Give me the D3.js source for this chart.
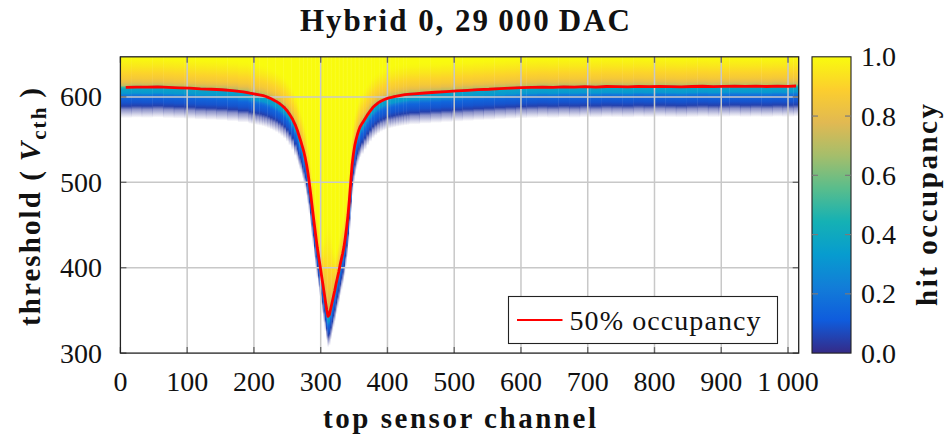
<!DOCTYPE html>
<html><head><meta charset="utf-8">
<script src="https://cdn.jsdelivr.net/npm/d3@7"></script>
<style>body{margin:0;background:#fff}text{font-family:"Liberation Serif","Times New Roman",serif;fill:#111}</style>
</head><body>
<svg id="c" width="944" height="441"></svg>
<script>
// ---------------- data ----------------
const nChannels = 1016;
// start channel of each column bin (finer bins where the 50% curve is steep)
const binStart = [].concat(
  d3.range(0, 192, 16), d3.range(192, 264, 4), d3.range(264, 360, 2),
  d3.range(360, 432, 4), d3.range(432, 1016, 16));
// 50% occupancy threshold (V_cth) of each bin
const mid50 = [
  611.2, 611.6, 611.4, 611.8, 611.1, 610.6, 610.2, 609.4, 609.0, 608.4, 607.4, 606.0,
  604.5, 604.0, 603.4, 602.8, 602.2, 601.5, 600.5, 599.2, 597.8, 596.2, 594.5, 592.5, 590.0, 587.2, 583.5, 579.0, 573.8, 567.0,
  561, 556, 551, 546, 540.5, 535, 528, 520, 510.5, 499, 486.5, 473, 460, 447.5, 435, 423, 413, 402.5, 392, 382, 371.5, 361, 351, 343,
  345, 352, 359, 366, 373, 381, 388, 395, 403, 410, 417, 425, 436, 448, 462, 480, 500, 520, 533, 543, 550, 556, 561, 565,
  569, 574, 579, 583.5, 587.5, 590.5, 593, 595, 596.5, 597.8, 598.8, 599.6, 600.3, 601, 601.6, 602.1, 602.6, 603.0,
  603.6, 604.6, 605.5, 606.3, 607.0, 607.8, 608.5, 609.0, 609.8, 610.3, 610.8, 611.2, 611.6, 611.3, 611.8, 611.5, 612.0, 611.6, 612.2,
  612.0, 611.7, 612.3, 612.0, 612.4, 612.1, 611.8, 612.2, 612.5, 612.1, 612.4, 612.7, 612.3, 612.5, 612.2, 612.6, 612.4, 612.8
];
// broader turn-on near the bottom of the dip
const tipChannel = [302, 304, 306, 308, 310, 312, 314, 316, 318, 320];
const tipSpread  = [1.4, 1.8, 2.3, 2.8, 3.0, 3.0, 2.6, 2.1, 1.6, 1.3];
// occupancy profile around the 50% point (offset in V_cth)
const profileOffset = [36, 32, 24, 16, 10, 6, 2, 0, -2, -7, -9, -12, -18, -22, -26, -32, -36];
const profileOcc    = [1.0, 0.99, 0.95, 0.9, 0.86, 0.81, 0.72, 0.5, 0.37, 0.32, 0.22, 0.14, 0.09, 0.05, 0.03, 0.02, 0.0];
const profileAlpha  = [1, 1, 1, 1, 1, 1, 1, 1, 1, 1, 1, 1, 1, 1, 0.55, 0.2, 0];

const xTicks = d3.range(0, 1001, 100);
const yTicks = [300, 400, 500, 600];
const cbTicks = [0, 0.2, 0.4, 0.6, 0.8, 1.0];
const parula = ["#352a87","#0f5cdd","#127dd8","#079ccf","#15b1b4","#59bd8c","#a5be6b","#e1b952","#fcce2e","#f9fb0e"];
const titleText = "Hybrid 0, 29\u2009000\u2009DAC";
const xLabel = "top sensor channel";
const cbLabel = "hit occupancy";
const legendText = "50% occupancy";

// ---------------- scales ----------------
const svg = d3.select("#c");
const x = d3.scaleLinear().domain([0, nChannels]).range([120.4, 798.7]);
const y = d3.scaleLinear().domain([300, 647]).range([353.1, 56.8]);
const color = d3.scaleLinear().domain(d3.range(parula.length).map(i => i / (parula.length - 1))).range(parula).clamp(true);
const cbY = d3.scaleLinear().domain([0, 1]).range([353.1, 56.8]);

const defs = svg.append("defs");
defs.append("clipPath").attr("id", "plotclip").append("rect")
  .attr("x", x(0)).attr("y", y(647)).attr("width", x(nChannels) - x(0)).attr("height", y(300) - y(647));

// ---------------- heatmap ----------------
const cols = binStart.map((s, i) => {
  const e = i < binStart.length - 1 ? binStart[i + 1] : nChannels;
  const k = tipChannel.indexOf(s);
  return { s, e, c: (s + e) / 2, m: mid50[i], spread: k >= 0 ? tipSpread[k] : 1 };
});
const heat = svg.append("g").attr("clip-path", "url(#plotclip)");
cols.forEach((d, i) => {
  const yTop = y(647);
  const tBot = Math.max(300, d.m + profileOffset[profileOffset.length - 1]);
  const yBot = y(tBot);
  const g = defs.append("linearGradient").attr("id", "hg" + i)
    .attr("gradientUnits", "userSpaceOnUse").attr("x1", 0).attr("x2", 0).attr("y1", yTop).attr("y2", yBot);
  profileOffset.forEach((o, j) => {
    const t = d.m + (o > 0 ? o * d.spread : o);
    const off = Math.max(0, Math.min(1, (y(t) - yTop) / (yBot - yTop)));
    g.append("stop").attr("offset", off).attr("stop-color", color(profileOcc[j])).attr("stop-opacity", profileAlpha[j]);
  });
  heat.append("rect").attr("x", x(d.s)).attr("y", yTop)
    .attr("width", x(d.e) - x(d.s) + 0.4).attr("height", yBot - yTop)
    .attr("fill", "url(#hg" + i + ")");
});

// ---------------- grid ----------------
const grid = svg.append("g").attr("stroke", "#c8c8c8").attr("stroke-width", 1.5);
grid.selectAll(".vx").data(xTicks.filter(v => v > 0)).join("line")
  .attr("x1", d => x(d)).attr("x2", d => x(d)).attr("y1", y(647)).attr("y2", y(300));
grid.selectAll(".hy").data(yTicks.filter(v => v > 300)).join("line")
  .attr("y1", d => y(d)).attr("y2", d => y(d)).attr("x1", x(0)).attr("x2", x(nChannels));

// tick marks (inside)
const tk = svg.append("g").attr("stroke", "#666").attr("stroke-width", 1.3);
xTicks.forEach(v => {
  tk.append("line").attr("x1", x(v)).attr("x2", x(v)).attr("y1", y(300)).attr("y2", y(300) - 6);
  tk.append("line").attr("x1", x(v)).attr("x2", x(v)).attr("y1", y(647)).attr("y2", y(647) + 6);
});
yTicks.forEach(v => {
  tk.append("line").attr("y1", y(v)).attr("y2", y(v)).attr("x1", x(0)).attr("x2", x(0) + 6);
  tk.append("line").attr("y1", y(v)).attr("y2", y(v)).attr("x1", x(nChannels)).attr("x2", x(nChannels) - 6);
});

// ---------------- 50% line ----------------
svg.append("path").datum(cols).attr("clip-path", "url(#plotclip)")
  .attr("fill", "none").attr("stroke", "#ff0000").attr("stroke-width", 2.8).attr("stroke-linejoin", "round")
  .attr("d", d3.line().x(d => x(d.c)).y(d => y(d.m)));

// frame
svg.append("rect").attr("x", x(0)).attr("y", y(647)).attr("width", x(nChannels) - x(0)).attr("height", y(300) - y(647))
  .attr("fill", "none").attr("stroke", "#222").attr("stroke-width", 1.3);

// ---------------- axes labels ----------------
svg.append("g").selectAll("text").data(xTicks).join("text")
  .attr("x", d => x(d)).attr("y", 391).attr("text-anchor", "middle").attr("font-size", 28)
  .text(d => d >= 1000 ? d3.format(",")(d).replace(",", "\u2009") : d);
svg.append("g").selectAll("text").data(yTicks).join("text")
  .attr("x", 102).attr("y", d => y(d)).attr("dy", "0.34em").attr("text-anchor", "end").attr("font-size", 28)
  .text(d => d);

svg.append("text").attr("x", 459.5).attr("y", 428).attr("text-anchor", "middle")
  .attr("font-size", 29).attr("font-weight", "bold").attr("textLength", 273).attr("lengthAdjust", "spacing").text(xLabel);

const yl = svg.append("text").attr("transform", "translate(40,207) rotate(-90)").attr("text-anchor", "middle")
  .attr("font-size", 29).attr("font-weight", "bold").attr("textLength", 238).attr("lengthAdjust", "spacing");
yl.append("tspan").text("threshold (\u2009");
yl.append("tspan").attr("font-style", "italic").text("V");
yl.append("tspan").attr("font-size", 21).attr("dy", 6).text("cth");
yl.append("tspan").attr("dy", -6).text("\u2009)");

svg.append("text").attr("x", 465).attr("y", 31).attr("text-anchor", "middle")
  .attr("font-size", 31).attr("font-weight", "bold").attr("textLength", 330).attr("lengthAdjust", "spacing").text(titleText);

// ---------------- colorbar ----------------
const cg = defs.append("linearGradient").attr("id", "cbg").attr("x1", 0).attr("x2", 0).attr("y1", 1).attr("y2", 0);
parula.forEach((c, i) => cg.append("stop").attr("offset", i / (parula.length - 1)).attr("stop-color", c));
svg.append("rect").attr("x", 812).attr("y", cbY(1)).attr("width", 39).attr("height", cbY(0) - cbY(1))
  .attr("fill", "url(#cbg)").attr("stroke", "#222").attr("stroke-width", 1.1);
const cbt = svg.append("g").attr("stroke", "#7a7a7a").attr("stroke-width", 1.2);
cbTicks.filter(v => v > 0 && v < 1).forEach(v => {
  cbt.append("line").attr("x1", 812).attr("x2", 818).attr("y1", cbY(v)).attr("y2", cbY(v));
  cbt.append("line").attr("x1", 845).attr("x2", 851).attr("y1", cbY(v)).attr("y2", cbY(v));
});
svg.append("g").selectAll("text").data(cbTicks).join("text")
  .attr("x", 861).attr("y", d => cbY(d)).attr("dy", "0.34em").attr("font-size", 28).text(d => d.toFixed(1));
svg.append("text").attr("transform", "translate(937,205) rotate(-90)").attr("text-anchor", "middle")
  .attr("font-size", 29).attr("font-weight", "bold").attr("textLength", 202).attr("lengthAdjust", "spacing").text(cbLabel);

// ---------------- legend ----------------
const lg = svg.append("g");
lg.append("rect").attr("x", 508.5).attr("y", 296.5).attr("width", 269).attr("height", 47)
  .attr("fill", "#fff").attr("stroke", "#222").attr("stroke-width", 1.1);
lg.append("line").attr("x1", 517).attr("x2", 562.5).attr("y1", 320).attr("y2", 320).attr("stroke", "#ff0000").attr("stroke-width", 2);
lg.append("text").attr("x", 569.5).attr("y", 330).attr("font-size", 28).attr("textLength", 191).attr("lengthAdjust", "spacing").text(legendText);
</script>
</body></html>
